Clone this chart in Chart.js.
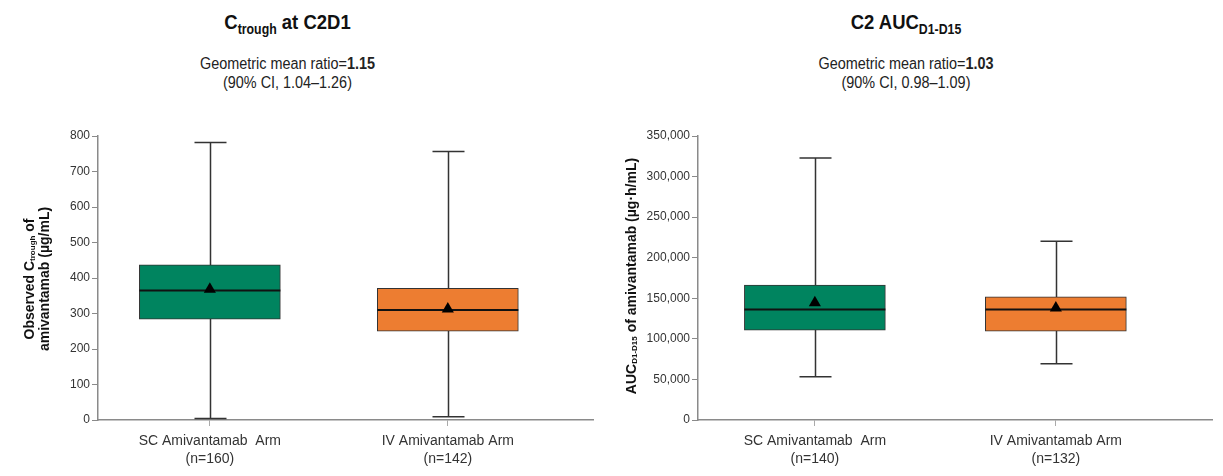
<!DOCTYPE html>
<html>
<head>
<meta charset="utf-8">
<script src="https://cdn.jsdelivr.net/npm/chart.js@4/dist/chart.umd.min.js"></script>
<style>
  body { margin: 0; background: #fff; width: 1223px; height: 476px; position: relative; overflow: hidden;
         font-family: 'Liberation Sans', Arial, sans-serif; color: #111; }
  canvas { position: absolute; top: 0; }
  .title { position: absolute; top: 10px; text-align: center; font-weight: bold; font-size: 21px;
           transform: scaleX(0.88); }
  .title sub { font-size: 14px; vertical-align: -5px; }
  .sub { position: absolute; top: 54px; text-align: center; font-size: 16px; line-height: 19px; color: #222;
         transform: scaleX(0.9); }
</style>
</head>
<body>
<div class="title" style="left:0;width:575px">C<sub>trough</sub> at C2D1</div>
<div class="sub" style="left:0;width:575px">Geometric mean ratio=<b>1.15</b><br>(90% CI, 1.04–1.26)</div>
<div class="title" style="left:610px;width:592px">C2 AUC<sub>D1-D15</sub></div>
<div class="sub" style="left:610px;width:592px">Geometric mean ratio=<b>1.03</b><br>(90% CI, 0.98–1.09)</div>
<canvas id="canvas1" width="610" height="476" style="left:0"></canvas>
<canvas id="canvas2" width="613" height="476" style="left:610px"></canvas>
<script>
// arms
const categories = ['SC Amivantamab  Arm', 'IV Amivantamab Arm']
const boxColors = ['#00845f', '#ed7d31']

// Ctrough at C2D1 (ug/mL)
const ctroughN = [160, 142]
const ctroughMin = [4, 9]
const ctroughQ1 = [284, 250]
const ctroughMedian = [365, 310]
const ctroughQ3 = [437, 371]
const ctroughMax = [782, 756]
const ctroughMean = [368, 313]
const ctroughTicks = [0, 100, 200, 300, 400, 500, 600, 700, 800]

// C2 AUC D1-D15 (ug*h/mL)
const aucN = [140, 132]
const aucMin = [53300, 69300]
const aucQ1 = [110800, 109600]
const aucMedian = [136300, 136300]
const aucQ3 = [166200, 151800]
const aucMax = [322900, 220400]
const aucMean = [144500, 138000]
const aucTicks = [0, 50000, 100000, 150000, 200000, 250000, 300000, 350000]

Chart.defaults.font.family = "'Liberation Sans', Arial, sans-serif"

// whiskers, caps and median line on top of the floating bars
const makeBoxPlugin = (stats) => ({
    id: 'boxParts',
    beforeDatasetsDraw(chart) {
        const { ctx, scales: { x, y } } = chart
        ctx.save()
        ctx.strokeStyle = '#333'
        ctx.lineWidth = 1.5
        stats.min.forEach((mn, i) => {
            const px = Math.round(x.getPixelForValue(i + 1)) + 0.5
            const top = y.getPixelForValue(stats.max[i])
            const bot = y.getPixelForValue(mn)
            ctx.beginPath()
            ctx.moveTo(px, top); ctx.lineTo(px, bot)
            ctx.moveTo(px - 16, top); ctx.lineTo(px + 16, top)
            ctx.moveTo(px - 16, bot); ctx.lineTo(px + 16, bot)
            ctx.stroke()
        })
        ctx.restore()
    },
    afterDatasetDraw(chart, args) {
        if (args.meta.type !== 'bar') return
        const { ctx, scales: { y } } = chart
        ctx.save()
        ctx.strokeStyle = '#111'
        ctx.lineWidth = 2
        args.meta.data.forEach((bar, i) => {
            const py = y.getPixelForValue(stats.median[i])
            ctx.beginPath()
            ctx.moveTo(bar.x - bar.width / 2, py)
            ctx.lineTo(bar.x + bar.width / 2, py)
            ctx.stroke()
        })
        ctx.restore()
    }
})

// rotated y title with subscripts
const makeYTitle = (lines, xs, cy) => ({
    id: 'yTitle',
    afterDraw(chart) {
        const ctx = chart.ctx
        const big = "bold 14px 'Liberation Sans', Arial, sans-serif"
        const small = "bold 8px 'Liberation Sans', Arial, sans-serif"
        lines.forEach((parts, li) => {
            let total = 0
            parts.forEach(p => { ctx.font = p.sub ? small : big; total += ctx.measureText(p.t).width })
            ctx.save()
            ctx.translate(xs[li], cy)
            ctx.rotate(-Math.PI / 2)
            ctx.fillStyle = '#111'
            ctx.textBaseline = 'middle'
            let pos = -total / 2
            parts.forEach(p => {
                ctx.font = p.sub ? small : big
                ctx.fillText(p.t, pos, p.sub ? 3 : 0)
                pos += ctx.measureText(p.t).width
            })
            ctx.restore()
        })
    }
})

const generateChart = (canvas_id, cfg) => {
    const canvas = document.getElementById(canvas_id)
    new Chart(canvas, {
        type: 'bar',
        data: {
            datasets: [
                {
                    type: 'scatter',
                    data: cfg.mean.map((m, i) => ({ x: i + 1, y: m })),
                    pointStyle: 'triangle',
                    radius: 7,
                    backgroundColor: '#000',
                    borderWidth: 0,
                    order: 1
                },
                {
                    type: 'bar',
                    data: cfg.q1.map((q, i) => ({ x: i + 1, y: [q, cfg.q3[i]] })),
                    backgroundColor: boxColors,
                    borderColor: '#333',
                    borderWidth: 1,
                    borderSkipped: false,
                    barThickness: 141,
                    order: 2
                }
            ]
        },
        options: {
            responsive: false,
            animation: false,
            layout: { padding: { top: 136, right: cfg.padRight, left: 0, bottom: 0 } },
            plugins: { legend: { display: false }, tooltip: { enabled: false } },
            scales: {
                x: {
                    type: 'linear',
                    offset: false,
                    min: cfg.xMin,
                    max: cfg.xMax,
                    afterBuildTicks: (s) => { s.ticks = [{ value: 1 }, { value: 2 }] },
                    afterFit: (s) => { s.height = 56 },
                    ticks: {
                        autoSkip: false,
                        maxRotation: 0,
                        padding: 6,
                        color: '#333',
                        font: { size: 14, lineHeight: 1.3 },
                        callback: (v) => [categories[v - 1], '(n=' + cfg.n[v - 1] + ')']
                    },
                    grid: { offset: false, drawOnChartArea: false, tickLength: 6, color: '#aaa' },
                    border: { color: '#8a8a8a', width: 1.5 }
                },
                y: {
                    min: 0,
                    max: cfg.ticks[cfg.ticks.length - 1],
                    afterBuildTicks: (s) => { s.ticks = cfg.ticks.map(v => ({ value: v })) },
                    afterFit: (s) => { s.width = cfg.axisX },
                    ticks: {
                        padding: 2,
                        color: '#333',
                        font: { size: 12 },
                        callback: (v) => v.toLocaleString('en-US')
                    },
                    grid: { drawOnChartArea: false, tickLength: 6, color: '#8a8a8a' },
                    border: { color: '#8a8a8a', width: 1.5 }
                }
            }
        },
        plugins: [makeBoxPlugin(cfg), makeYTitle(cfg.title, cfg.titleX, cfg.titleY)]
    })
}

generateChart('canvas1', {
    n: ctroughN, min: ctroughMin, q1: ctroughQ1, median: ctroughMedian, q3: ctroughQ3,
    max: ctroughMax, mean: ctroughMean, ticks: ctroughTicks,
    axisX: 98, padRight: 17, xMin: 0.53, xMax: 2.61,
    title: [
        [{ t: 'Observed C' }, { t: 'trough', sub: true }, { t: ' of' }],
        [{ t: 'amivantamab (µg/mL)' }]
    ],
    titleX: [30, 45], titleY: 279
})

generateChart('canvas2', {
    n: aucN, min: aucMin, q1: aucQ1, median: aucMedian, q3: aucQ3,
    max: aucMax, mean: aucMean, ticks: aucTicks,
    axisX: 88, padRight: 11, xMin: 0.515, xMax: 2.648,
    title: [
        [{ t: 'AUC' }, { t: 'D1-D15', sub: true }, { t: ' of amivantamab (µg·h/mL)' }]
    ],
    titleX: [22], titleY: 276
})
</script>
</body>
</html>
